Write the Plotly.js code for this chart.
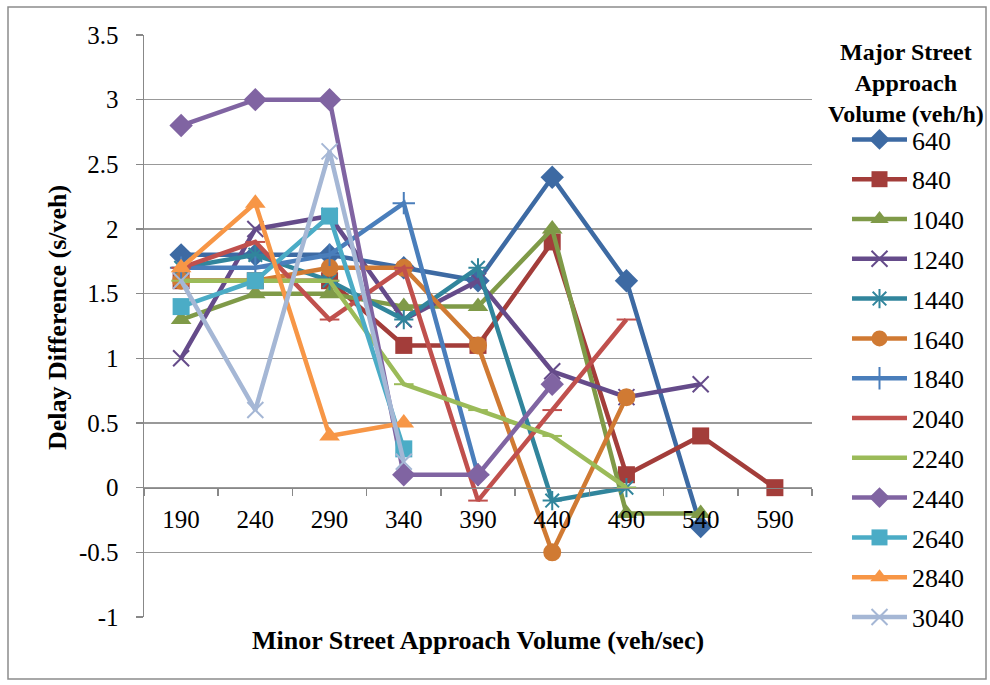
<!DOCTYPE html>
<html>
<head>
<meta charset="utf-8">
<script src="https://cdn.plot.ly/plotly-3.0.1.min.js"></script>
<style>
html,body{margin:0;padding:0;background:#fff;}
#chart{width:990px;height:685px;}
</style>
</head>
<body>
<div id="chart"></div>
<script>
const categories = ["190","240","290","340","390","440","490","540","590"];
const seriesNames = ["640","840","1040","1240","1440","1640","1840","2040","2240","2440","2640","2840","3040"];
const v640  = [1.8, 1.8, 1.8, 1.7, 1.6, 2.4, 1.6, -0.3];
const v840  = [1.6, 1.6, 1.6, 1.1, 1.1, 1.9, 0.1, 0.4, 0.0];
const v1040 = [1.3, 1.5, 1.5, 1.4, 1.4, 2.0, -0.2, -0.2];
const v1240 = [1.0, 2.0, 2.1, 1.3, 1.6, 0.9, 0.7, 0.8];
const v1440 = [1.7, 1.8, 1.6, 1.3, 1.7, -0.1, 0.0];
const v1640 = [1.6, 1.6, 1.7, 1.7, 1.1, -0.5, 0.7];
const v1840 = [1.7, 1.7, 1.8, 2.2, 0.1];
const v2040 = [1.7, 1.9, 1.3, 1.7, -0.1, 0.6, 1.3];
const v2240 = [1.6, 1.6, 1.6, 0.8, 0.6, 0.4, 0.0];
const v2440 = [2.8, 3.0, 3.0, 0.1, 0.1, 0.8];
const v2640 = [1.4, 1.6, 2.1, 0.3];
const v2840 = [1.7, 2.2, 0.4, 0.5];
const v3040 = [1.6, 0.6, 2.6, 0.2];
const yTicks = [-1, -0.5, 0, 0.5, 1, 1.5, 2, 2.5, 3, 3.5];

const values = [v640, v840, v1040, v1240, v1440, v1640, v1840, v2040, v2240, v2440, v2640, v2840, v3040];
const colors = ["#3D6AA3","#A33D3A","#7F9A48","#654B8A","#31859C","#D07A33","#4A7EBB","#C0504D","#9BBB59","#8064A2","#4BACC6","#F79646","#A5B7D5"];
const symbols = ["diamond","square","triangle-up","x-thin","asterisk-open","circle","cross-thin","line-ew","line-ew","diamond","square","triangle-up","x-thin"];
const sizes = [18, 17, 18, 16, 16, 18, 16, 14, 14, 18, 17, 18, 16];

const traces = seriesNames.map((name, i) => {
  const thin = ["x-thin","asterisk-open","cross-thin","line-ew"].includes(symbols[i]);
  return {
    type: "scatter",
    mode: "lines+markers",
    name: name,
    legendgroup: "g" + i,
    x: categories.slice(0, values[i].length),
    y: values[i],
    line: {color: colors[i], width: 4.5},
    marker: {
      symbol: symbols[i],
      size: sizes[i],
      color: colors[i],
      line: {color: colors[i], width: thin ? 2 : 0}
    }
  };
});

// Layout geometry
const L = 144, R = 178, T = 35, B = 68;
const W = 990 - L - R, H = 685 - T - B;
const px = v => (v - L) / W;
const py = v => (685 - B - v) / H;

const serif = "Times New Roman, Liberation Serif, DejaVu Serif, serif";
const FT = 25;   // tick labels
const FL = 26;   // legend labels
const FA = 26;   // axis titles

const layout = {
  width: 990, height: 685,
  margin: {l: L, r: R, t: T, b: B, pad: 0},
  paper_bgcolor: "#ffffff",
  plot_bgcolor: "#ffffff",
  font: {family: serif, size: FT, color: "#000"},
  showlegend: true,
  xaxis: {
    type: "category",
    categoryorder: "array",
    categoryarray: categories,
    range: [-0.5, categories.length - 0.5],
    anchor: "free",
    position: 1 / 4.5,
    showline: true,
    linecolor: "#888888",
    linewidth: 1.5,
    showgrid: false,
    zeroline: false,
    ticks: "outside",
    tickson: "boundaries",
    ticklen: 7,
    tickcolor: "#888888",
    tickwidth: 1.5,
    tickfont: {family: serif, size: FT, color: "#000"},
    ticklabelstandoff: 9,
    fixedrange: true
  },
  yaxis: {
    range: [-1, 3.5],
    tickvals: yTicks,
    ticktext: yTicks.map(String),
    showline: true,
    linecolor: "#888888",
    linewidth: 1.5,
    showgrid: true,
    gridcolor: "#999999",
    gridwidth: 1.5,
    zeroline: false,
    ticks: "outside",
    ticklen: 7,
    tickcolor: "#888888",
    tickwidth: 1.5,
    tickfont: {family: serif, size: FT, color: "#000"},
    ticklabelstandoff: 12,
    fixedrange: true
  },
  legend: {
    x: px(847), y: py(116), xanchor: "left", yanchor: "top",
    bgcolor: "rgba(0,0,0,0)",
    font: {family: serif, size: FL, color: "#000"},
    tracegroupgap: 3,
    itemwidth: 55,
    traceorder: "grouped"
  },
  shapes: [
    {type: "rect", xref: "paper", yref: "paper", x0: px(8), x1: px(986), y0: py(679), y1: py(7),
     line: {color: "#8c8c8c", width: 1.5}, fillcolor: "rgba(0,0,0,0)", layer: "below"}
  ],
  annotations: [
    {text: "<b>Major Street<br>Approach<br>Volume (veh/h)</b>", xref: "paper", yref: "paper", x: px(906), y: py(83),
     showarrow: false, align: "center", font: {family: serif, size: 24, color: "#000"}, xanchor: "center", yanchor: "middle"},
    {text: "<b>Delay Difference (s/veh)</b>", xref: "paper", yref: "paper", x: px(57), y: py(318),
     textangle: -90, showarrow: false, font: {family: serif, size: FA, color: "#000"}, xanchor: "center", yanchor: "middle"},
    {text: "<b>Minor Street Approach Volume (veh/sec)</b>", xref: "paper", yref: "paper", x: px(478), y: py(640),
     showarrow: false, font: {family: serif, size: FA, color: "#000"}, xanchor: "center", yanchor: "middle"}
  ]
};

Plotly.newPlot("chart", traces, layout, {displayModeBar: false, staticPlot: true});
</script>
</body>
</html>
